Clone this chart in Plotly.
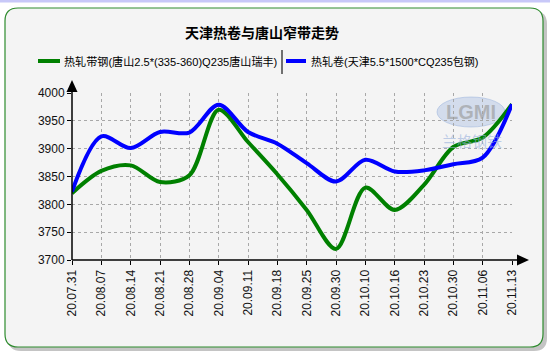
import plotly.graph_objects as go

dates = ["20.07.31", "20.08.07", "20.08.14", "20.08.21", "20.08.28", "20.09.04",
         "20.09.11", "20.09.18", "20.09.25", "20.09.30", "20.10.10", "20.10.16",
         "20.10.23", "20.10.30", "20.11.06", "20.11.13"]
strip_tangshan = [3820, 3860, 3870, 3840, 3852, 3970, 3912, 3854, 3790, 3720,
                  3830, 3790, 3835, 3903, 3920, 3980]
coil_tianjin = [3823, 3922, 3901, 3930, 3929, 3979, 3930, 3909, 3874, 3841,
                3880, 3859, 3861, 3872, 3884, 3980]
name_strip = "热轧带钢(唐山2.5*(335-360)Q235唐山瑞丰)"
name_coil = "热轧卷(天津5.5*1500*CQ235包钢)"
title = "天津热卷与唐山窄带走势"
yticks = [3700, 3750, 3800, 3850, 3900, 3950, 4000]

W, H = 550, 354
L, R, T, B = 72, 512, 93, 260
FONT_MIX = "Liberation Sans, Noto Sans CJK SC"

def px(x):
    return (x - L) / (R - L)

def py(y):
    return (B - y) / (B - T)

def rrect(x0, y0, x1, y1, r):
    return (f"M {px(x0+r)},{py(y0)} L {px(x1-r)},{py(y0)} Q {px(x1)},{py(y0)} {px(x1)},{py(y0+r)} "
            f"L {px(x1)},{py(y1-r)} Q {px(x1)},{py(y1)} {px(x1-r)},{py(y1)} "
            f"L {px(x0+r)},{py(y1)} Q {px(x0)},{py(y1)} {px(x0)},{py(y1-r)} "
            f"L {px(x0)},{py(y0+r)} Q {px(x0)},{py(y0)} {px(x0+r)},{py(y0)} Z")

xs = list(range(len(dates)))
fig = go.Figure()
fig.add_trace(go.Scatter(x=xs, y=strip_tangshan, mode="lines", name=name_strip,
                         line=dict(color="#008000", width=4, shape="spline", smoothing=0.9),
                         showlegend=False))
fig.add_trace(go.Scatter(x=xs, y=coil_tianjin, mode="lines", name=name_coil,
                         line=dict(color="#0000ff", width=4, shape="spline", smoothing=0.9),
                         showlegend=False))

shapes = []
shapes.append(dict(type="rect", xref="paper", yref="paper", x0=px(0), x1=px(W), y0=py(0), y1=py(2.5),
                   fillcolor="#c8c8f8", line=dict(width=0), layer="below"))
shapes.append(dict(type="path", xref="paper", yref="paper", path=rrect(8, 11, 547, 351, 13),
                   fillcolor="#c4c4c4", line=dict(width=0), layer="below"))
shapes.append(dict(type="path", xref="paper", yref="paper", path=rrect(5, 8, 543, 347, 13),
                   fillcolor="#f4f4f4", line=dict(color="#2e8b2e", width=1.2), layer="below"))
# watermark ellipse
shapes.append(dict(type="circle", xref="paper", yref="paper", x0=px(437), x1=px(505), y0=py(97), y1=py(127),
                   fillcolor="rgba(150,175,220,0.35)", line=dict(color="rgba(150,175,220,0.5)", width=1),
                   layer="below"))
# axis lines
shapes.append(dict(type="line", xref="paper", yref="paper", x0=px(L), x1=px(519), y0=py(B), y1=py(B),
                   line=dict(color="black", width=1.5)))
shapes.append(dict(type="line", xref="paper", yref="paper", x0=px(L), x1=px(L), y0=py(B), y1=py(90),
                   line=dict(color="black", width=1.5)))
# arrows
shapes.append(dict(type="path", xref="paper", yref="paper",
                   path=f"M {px(L)},{py(80)} L {px(L-5.5)},{py(92)} L {px(L+5.5)},{py(92)} Z",
                   fillcolor="black", line=dict(width=0)))
shapes.append(dict(type="path", xref="paper", yref="paper",
                   path=f"M {px(529)},{py(B)} L {px(517)},{py(B-5.5)} L {px(517)},{py(B+5.5)} Z",
                   fillcolor="black", line=dict(width=0)))
# legend samples
shapes.append(dict(type="line", xref="paper", yref="paper", x0=px(38), x1=px(60), y0=py(61), y1=py(61),
                   line=dict(color="#008000", width=4)))
shapes.append(dict(type="line", xref="paper", yref="paper", x0=px(286), x1=px(306), y0=py(61), y1=py(61),
                   line=dict(color="#0000ff", width=4)))
shapes.append(dict(type="line", xref="paper", yref="paper", x0=px(282), x1=px(282), y0=py(50), y1=py(74),
                   line=dict(color="#444444", width=1.5)))

annotations = [
    dict(text="<b>" + title + "</b>", x=px(262), y=py(32), xref="paper", yref="paper",
         showarrow=False, xanchor="center", yanchor="middle",
         font=dict(family="Noto Sans CJK SC", size=14, color="black")),
    dict(text=name_strip, x=px(62), y=py(61), xref="paper", yref="paper", showarrow=False,
         xanchor="left", yanchor="middle", font=dict(family=FONT_MIX, size=11.1, color="black")),
    dict(text=name_coil, x=px(309), y=py(61), xref="paper", yref="paper", showarrow=False,
         xanchor="left", yanchor="middle", font=dict(family=FONT_MIX, size=11, color="black")),
    dict(text="<b>LGMI</b>", x=px(471), y=py(112), xref="paper", yref="paper", showarrow=False,
         xanchor="center", yanchor="middle",
         font=dict(family="Liberation Sans", size=20, color="rgba(150,150,150,0.6)")),
    dict(text="兰格钢铁", x=px(472), y=py(140), xref="paper", yref="paper", showarrow=False,
         xanchor="center", yanchor="middle",
         font=dict(family="Noto Sans CJK SC", size=15, color="rgba(150,175,220,0.6)")),
]

fig.update_layout(
    width=W, height=H,
    margin=dict(l=L, r=W - R, t=T, b=H - B, pad=0),
    paper_bgcolor="white", plot_bgcolor="rgba(0,0,0,0)",
    shapes=shapes, annotations=annotations, showlegend=False,
)
fig.update_xaxes(range=[0, 15], tickvals=xs, ticktext=dates, tickangle=-90,
                 showgrid=True, gridcolor="#a8a8a8", griddash="dot", gridwidth=1,
                 zeroline=False, showline=False, ticks="outside", ticklen=4, tickcolor="black",
                 tickfont=dict(family="Liberation Sans", size=12, color="#111"))
fig.update_yaxes(range=[3700, 4000], tickvals=yticks, showgrid=True, gridcolor="#a8a8a8",
                 griddash="dot", gridwidth=1, zeroline=False, showline=False,
                 ticks="outside", ticklen=4, tickcolor="black",
                 tickfont=dict(family="Liberation Sans", size=12, color="#111"))
fig.write_html("out.html")
